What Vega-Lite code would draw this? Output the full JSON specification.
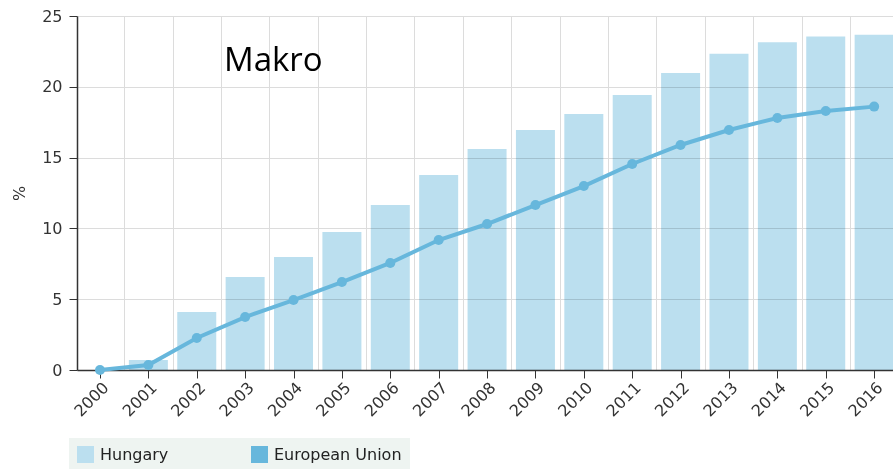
{
  "$schema": "https://vega.github.io/schema/vega-lite/v6.json",
  "width": 816,
  "height": 354,
  "autosize": {"type": "none"},
  "padding": {"left": 77, "top": 16, "right": 0, "bottom": 99},
  "background": "white",
  "title": {
    "text": "Makro",
    "anchor": "start",
    "frame": "group",
    "font": "Open Sans",
    "fontSize": 33,
    "fontWeight": "normal",
    "color": "#000000",
    "baseline": "alphabetic",
    "offset": 0,
    "dx": 147,
    "dy": 96
  },
  "data": {
    "values": [
      {"year": 2000, "hungary": 0.0, "eu": 0.0},
      {"year": 2001, "hungary": 0.7, "eu": 0.35},
      {"year": 2002, "hungary": 4.1, "eu": 2.26},
      {"year": 2003, "hungary": 6.57, "eu": 3.74},
      {"year": 2004, "hungary": 7.98, "eu": 4.94},
      {"year": 2005, "hungary": 9.75, "eu": 6.21},
      {"year": 2006, "hungary": 11.65, "eu": 7.56},
      {"year": 2007, "hungary": 13.77, "eu": 9.18},
      {"year": 2008, "hungary": 15.6, "eu": 10.31},
      {"year": 2009, "hungary": 16.95, "eu": 11.65},
      {"year": 2010, "hungary": 18.08, "eu": 12.99},
      {"year": 2011, "hungary": 19.42, "eu": 14.55},
      {"year": 2012, "hungary": 20.97, "eu": 15.89},
      {"year": 2013, "hungary": 22.34, "eu": 16.95},
      {"year": 2014, "hungary": 23.14, "eu": 17.8},
      {"year": 2015, "hungary": 23.56, "eu": 18.29},
      {"year": 2016, "hungary": 23.68, "eu": 18.6}
    ]
  },
  "layer": [
    {
      "mark": {"type": "bar", "width": 39, "blend": "multiply"},
      "encoding": {
        "x": {
          "field": "year",
          "type": "quantitative",
          "scale": {"domain": [1999.525, 2016.39], "nice": false, "zero": false, "padding": 0},
          "axis": {
            "values": [2000, 2001, 2002, 2003, 2004, 2005, 2006, 2007, 2008, 2009, 2010, 2011, 2012, 2013, 2014, 2015, 2016],
            "format": "d",
            "labelAngle": -45,
            "grid": false,
            "labelPadding": 1,
            "title": null,
            "orient": "bottom"
          }
        },
        "y": {
          "field": "hungary",
          "type": "quantitative",
          "title": "%",
          "scale": {"domain": [0, 25], "nice": false},
          "axis": {"values": [0, 5, 10, 15, 20, 25], "labelPadding": 7, "titlePadding": 14, "grid": true}
        },
        "color": {
          "datum": "Hungary",
          "type": "nominal",
          "scale": {"domain": ["Hungary", "European Union"], "range": ["#bbdfef", "#67b7dc"]},
          "legend": {
            "title": null,
            "orient": "none",
            "legendX": -8,
            "legendY": 422,
            "direction": "horizontal",
            "fillColor": "#eef4f1",
            "padding": 8,
            "symbolType": "square",
            "symbolSize": 289,
            "symbolStrokeWidth": 0,
            "labelFont": "DejaVu Sans",
            "labelFontSize": 16,
            "labelColor": "#222222",
            "labelOffset": 6,
            "columnPadding": 82
          }
        }
      }
    },
    {
      "mark": {"type": "line", "color": "#67b7dc", "strokeWidth": 4, "point": {"filled": true, "size": 100, "color": "#67b7dc"}},
      "encoding": {
        "x": {
          "field": "year",
          "type": "quantitative",
          "axis": {
            "values": [2000.5, 2001.5, 2002.5, 2003.5, 2004.5, 2005.5, 2006.5, 2007.5, 2008.5, 2009.5, 2010.5, 2011.5, 2012.5, 2013.5, 2014.5, 2015.5],
            "grid": true,
            "labels": false,
            "ticks": false,
            "domain": false,
            "title": null,
            "orient": "top"
          }
        },
        "y": {
          "field": "eu",
          "type": "quantitative",
          "title": "%",
          "axis": {"values": [0, 5, 10, 15, 20, 25], "labelPadding": 7, "titlePadding": 14, "grid": true}
        }
      }
    }
  ],
  "resolve": {"axis": {"x": "independent"}},
  "config": {
    "view": {"stroke": null},
    "axis": {
      "labelFont": "DejaVu Sans",
      "labelFontSize": 16,
      "labelColor": "#333333",
      "titleFont": "DejaVu Sans",
      "titleFontSize": 16,
      "titleFontWeight": "normal",
      "titleColor": "#333333",
      "gridColor": "#dcdcdc",
      "domainColor": "#333333",
      "domainWidth": 1.5,
      "tickColor": "#333333",
      "tickSize": 8
    }
  }
}
